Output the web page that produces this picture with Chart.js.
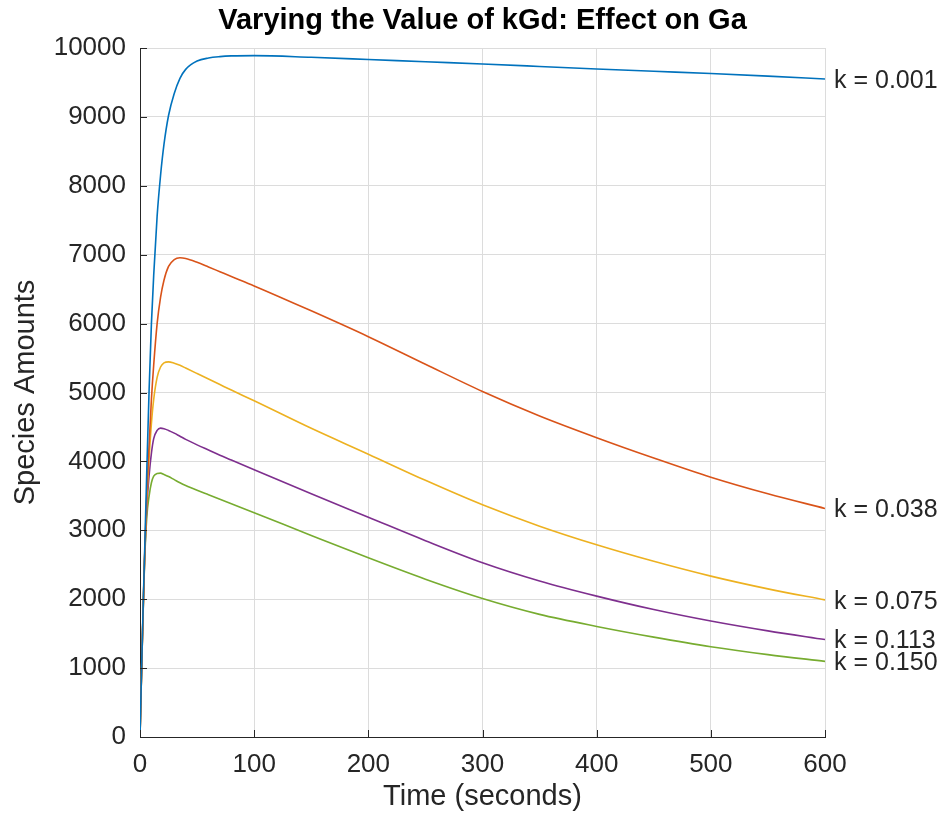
<!DOCTYPE html>
<html>
  <head>
    <title>Varying kGd</title>
    <script src="https://cdn.jsdelivr.net/npm/chart.js@4.4.1/dist/chart.umd.min.js"></script>
    <style>
      body { margin: 0; background: #fff; }
    </style>
  </head>
  <body>
    <canvas id="myChart" width="945" height="817"></canvas>

    <script>
      // time points (seconds)
      const times = [0, 1, 2, 3, 4, 6, 8, 10, 12, 15, 18, 21, 25, 30, 35, 40,
                     50, 60, 70, 80, 100, 150, 200, 250, 300, 350, 400, 450, 500, 550, 600]

      // Ga amounts, one array per kGd value
      const ga001 = [0, 720, 1400, 2050, 2650, 3900, 5050, 6000, 6700, 7560, 8150, 8600, 9020, 9340, 9560, 9690,
                     9810, 9855, 9875, 9885, 9890, 9865, 9833, 9800, 9768, 9732, 9695, 9662, 9630, 9592, 9550]
      const ga038 = [0, 710, 1380, 2000, 2600, 3550, 4250, 4900, 5400, 6000, 6380, 6630, 6830, 6930, 6955, 6945,
                     6890, 6822, 6753, 6684, 6547, 6185, 5810, 5410, 5015, 4660, 4345, 4050, 3771, 3530, 3317]
      const ga075 = [0, 705, 1370, 1990, 2580, 3450, 4050, 4550, 4900, 5220, 5370, 5430, 5445, 5425, 5395, 5355,
                     5275, 5195, 5115, 5035, 4880, 4480, 4105, 3725, 3370, 3060, 2790, 2550, 2335, 2150, 1990]
      const ga113 = [0, 700, 1360, 1980, 2560, 3350, 3800, 4120, 4330, 4450, 4483, 4475, 4450, 4410, 4365, 4320,
                     4240, 4165, 4090, 4020, 3880, 3530, 3190, 2850, 2530, 2265, 2045, 1850, 1683, 1540, 1415]
      const ga150 = [0, 695, 1350, 1960, 2530, 3200, 3500, 3690, 3785, 3825, 3830, 3810, 3780, 3735, 3690, 3650,
                     3580, 3515, 3450, 3385, 3255, 2925, 2600, 2290, 2010, 1780, 1605, 1450, 1310, 1195, 1098]

      const seriesList = [ga001, ga038, ga075, ga113, ga150]
      const endLabels = ["k = 0.001", "k = 0.038", "k = 0.075", "k = 0.113", "k = 0.150"]
      const colors = ["#0072BD", "#D95319", "#EDB120", "#7E2F8E", "#77AC30"]

      const xTicks = [0, 100, 200, 300, 400, 500, 600]
      const yTicks = [0, 1000, 2000, 3000, 4000, 5000, 6000, 7000, 8000, 9000, 10000]

      const axisColor = "#262626"
      const fontFam = "'Liberation Sans', Arial, Helvetica, sans-serif"

      // title, inner tick marks and the k labels at the line ends
      const extras = {
        id: "extras",
        afterDraw(chart) {
          const ctx = chart.ctx
          const area = chart.chartArea
          const xs = chart.scales.x
          const ys = chart.scales.y
          ctx.save()

          ctx.strokeStyle = axisColor
          ctx.lineWidth = 1
          ctx.beginPath()
          xTicks.forEach(v => {
            const px = Math.round(xs.getPixelForValue(v)) + 0.5
            ctx.moveTo(px, area.bottom)
            ctx.lineTo(px, area.bottom - 7)
          })
          yTicks.forEach(v => {
            const py = Math.round(ys.getPixelForValue(v)) + 0.5
            ctx.moveTo(area.left, py)
            ctx.lineTo(area.left + 7, py)
          })
          ctx.stroke()

          ctx.fillStyle = "#000"
          ctx.font = "bold 29px " + fontFam
          ctx.textAlign = "center"
          ctx.textBaseline = "middle"
          ctx.fillText("Varying the Value of kGd: Effect on Ga", (area.left + area.right) / 2, 21)

          ctx.fillStyle = axisColor
          ctx.font = "25px " + fontFam
          ctx.textAlign = "left"
          seriesList.forEach((s, i) => {
            const py = ys.getPixelForValue(s[s.length - 1])
            ctx.fillText(endLabels[i], area.right + 9, py + 2)
          })
          ctx.restore()
        }
      }

      const datasets = seriesList.map((s, i) => ({
        label: endLabels[i],
        data: times.map((t, j) => ({ x: t, y: s[j] })),
        borderColor: colors[i],
        borderWidth: 1.6,
        pointRadius: 0,
        fill: false,
        cubicInterpolationMode: "monotone"
      }))

      new Chart("myChart", {
        type: "line",
        data: { datasets: datasets },
        options: {
          responsive: false,
          animation: false,
          layout: { padding: { left: 0, top: 48, right: 120, bottom: 0 } },
          plugins: {
            legend: { display: false },
            title: { display: false },
            tooltip: { enabled: false }
          },
          scales: {
            x: {
              type: "linear",
              min: 0,
              max: 600,
              afterFit(scale) { scale.height = 80 },
              afterBuildTicks(scale) { scale.ticks = xTicks.map(v => ({ value: v })) },
              grid: { color: "#dcdcdc", drawTicks: false },
              border: { display: true, color: axisColor, width: 1 },
              ticks: {
                color: axisColor,
                font: { size: 26, family: fontFam },
                padding: 12,
                maxRotation: 0,
                callback: v => String(v)
              },
              title: {
                display: true,
                text: "Time (seconds)",
                color: axisColor,
                font: { size: 29, family: fontFam },
                padding: { top: 0, bottom: 3 }
              }
            },
            y: {
              min: 0,
              max: 10000,
              afterFit(scale) { scale.width = 140 },
              afterBuildTicks(scale) { scale.ticks = yTicks.map(v => ({ value: v })) },
              grid: { color: "#dcdcdc", drawTicks: false },
              border: { display: true, color: axisColor, width: 1 },
              ticks: {
                color: axisColor,
                font: { size: 26, family: fontFam },
                padding: 14,
                callback: v => String(v)
              },
              title: {
                display: true,
                text: "Species Amounts",
                color: axisColor,
                font: { size: 29, family: fontFam },
                padding: { top: 9, bottom: 0 }
              }
            }
          }
        },
        plugins: [extras]
      })
    </script>
  </body>
</html>
